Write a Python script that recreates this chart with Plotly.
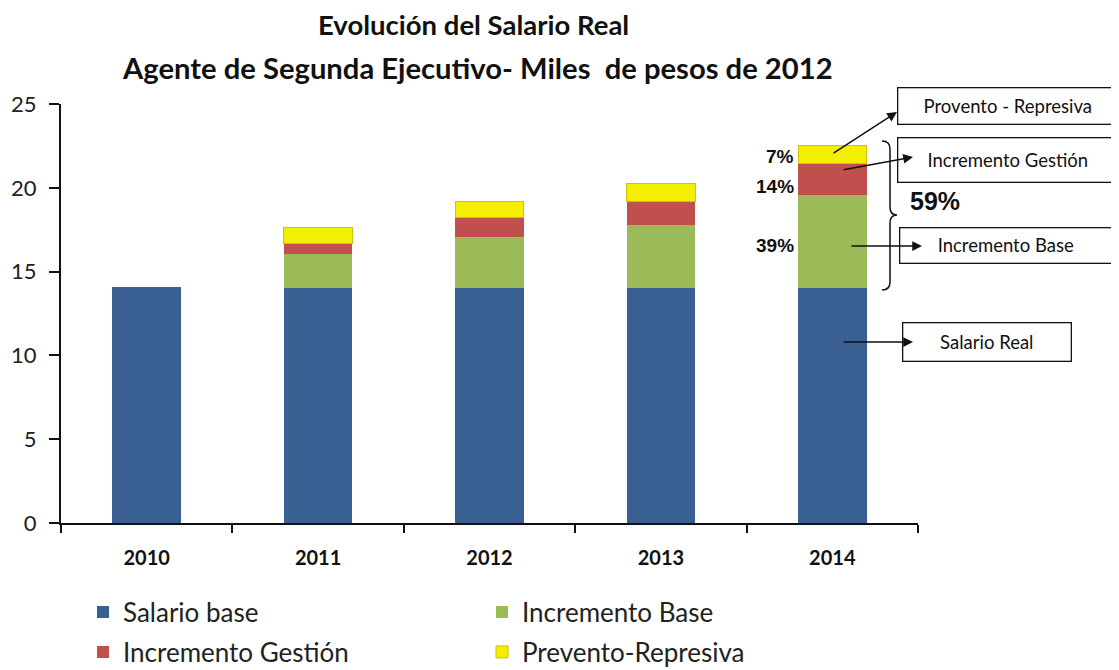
import plotly.graph_objects as go

years = ["2010", "2011", "2012", "2013", "2014"]
salario_base = [14.08, 14.05, 14.05, 14.05, 14.0]
incremento_base = [None, 1.99, 3.02, 3.76, 5.57]
incremento_gestion = [None, 0.66, 1.13, 1.35, 1.89]
prevento_represiva = [None, 0.91, 1.01, 1.10, 1.05]

series_names = ["Salario base", "Incremento Base", "Incremento Gestión", "Prevento-Represiva"]
colors = ["#3A5F92", "#9BBB59", "#C0504D", "#F2F000"]
pct_labels = ["7%", "14%", "39%"]
total_label = "59%"
box_texts = ["Provento - Represiva", "Incremento Gestión", "Incremento Base", "Salario Real"]
title_lines = ["Evolución del Salario Real", "Agente de Segunda Ejecutivo- Miles  de pesos de 2012"]

# page body has an 8px margin; work in screen pixels and compensate
O = 8
SW, SH = 1119, 670
W, H = SW - O, SH - O
PX0, PX1, PY0, PY1 = 61, 918, 104, 523  # plot area in screen px
L, T = PX0 - O, PY0 - O
PW, PH = PX1 - PX0, PY1 - PY0
R, B = W - L - PW, H - T - PH


def px(x):
    return (x - PX0) / PW


def py(y):
    return (PY1 - y) / PH


fig = go.Figure()
data = [salario_base, incremento_base, incremento_gestion, prevento_represiva]
legends = ["legend", "legend", "legend2", "legend2"]
for name, vals, col, lg in zip(series_names, data, colors, legends):
    line = dict(width=0)
    if name == "Prevento-Represiva":
        line = dict(width=1, color="#D2C200")
    fig.add_trace(go.Bar(x=years, y=vals, name=name, marker=dict(color=col, line=line),
                         width=0.4, legend=lg))

font_main = "Lato, 'Open Sans', sans-serif"
font_arial = "'Liberation Sans', Arial, sans-serif"

ann = []
# titles
ann.append(dict(text=title_lines[0], x=px(473), y=py(24), xref="paper", yref="paper",
                xanchor="center", yanchor="middle", showarrow=False,
                font=dict(family=font_main, size=27.5, color="#111", weight="bold")))
ann.append(dict(text=title_lines[1], x=px(477), y=py(67), xref="paper", yref="paper",
                xanchor="center", yanchor="middle", showarrow=False,
                font=dict(family=font_main, size=29.2, color="#111", weight="bold")))

# percentage labels
for t, yy in zip(pct_labels, [156, 186, 245]):
    ann.append(dict(text=t, x=px(796), y=py(yy), xref="paper", yref="paper", xanchor="right",
                    yanchor="middle", showarrow=False,
                    font=dict(family=font_arial, size=19, color="#111", weight="bold")))
ann.append(dict(text=total_label, x=px(935), y=py(201), xref="paper", yref="paper",
                xanchor="center", yanchor="middle", showarrow=False,
                font=dict(family=font_arial, size=25, color="#111", weight="bold")))

# arrows (head, tail) in screen pixels
arrows = [((897, 112), (832, 154)), ((913, 157), (842, 170)), ((922, 246), (850, 246)), ((913, 342), (842, 342))]

# boxes
boxes = [(1007.5, 106.5, 221, 37), (1008.5, 159.5, 221, 45), (1006.5, 245, 213, 36), (986.5, 341.5, 169, 39)]
for t, (cx, cy, bw, bh) in zip(box_texts, boxes):
    ann.append(dict(text=t, x=px(cx), y=py(cy), xref="paper", yref="paper", showarrow=False,
                    xanchor="center", yanchor="middle",
                    width=bw - 2, height=bh - 2, borderpad=0, borderwidth=1.3, bordercolor="#111",
                    bgcolor="white", align="center", valign="middle",
                    font=dict(family=font_main, size=18.5, color="#111")))

for (hx, hy), (tx, ty) in arrows:
    ann.append(dict(text="", x=px(hx), y=py(hy), ax=tx - hx, ay=ty - hy, xref="paper", yref="paper",
                    axref="pixel", ayref="pixel", showarrow=True, arrowhead=2, arrowsize=1.3,
                    arrowwidth=1.5, arrowcolor="#111", standoff=0))

# brace
bx0, bx1, bx2 = px(882), px(890), px(897)
y0, y1, y2, y3, y4, y5, y6 = py(141), py(149), py(207), py(215), py(223), py(282), py(290)
path = (f"M {bx0},{y0} Q {bx1},{y0} {bx1},{y1} L {bx1},{y2} Q {bx1},{y3} {bx2},{y3} "
        f"Q {bx1},{y3} {bx1},{y4} L {bx1},{y5} Q {bx1},{y6} {bx0},{y6}")
shapes = [dict(type="path", path=path, xref="paper", yref="paper", line=dict(color="#111", width=1.5))]

fig.update_layout(
    width=W, height=H,
    margin=dict(l=L, r=R, t=T, b=B, autoexpand=False),
    paper_bgcolor="white", plot_bgcolor="white",
    barmode="stack",
    annotations=ann, shapes=shapes,
    showlegend=True,
    legend=dict(orientation="h", x=px(83), y=py(612), xanchor="left", yanchor="middle",
                entrywidth=354, traceorder="normal",
                font=dict(family=font_main, size=26, color="#222")),
    legend2=dict(orientation="h", x=px(83), y=py(652), xanchor="left", yanchor="middle",
                 entrywidth=354, traceorder="normal",
                 font=dict(family=font_main, size=26, color="#222")),
    xaxis=dict(showline=True, linecolor="#111", linewidth=2, ticks="outside", tickson="boundaries",
               ticklen=8, tickwidth=2, tickcolor="#111", showgrid=False, ticklabelstandoff=16,
               tickfont=dict(family=font_main, size=20, color="#111", weight="bold"), fixedrange=True),
    yaxis=dict(range=[0, 25], dtick=5, showline=True, linecolor="#111", linewidth=2, ticks="outside",
               ticklen=10, tickwidth=2, tickcolor="#111", showgrid=False, zeroline=False,
               ticklabelstandoff=8,
               tickfont=dict(family=font_main, size=22, color="#222")),
)

fig.write_html("out.html")
